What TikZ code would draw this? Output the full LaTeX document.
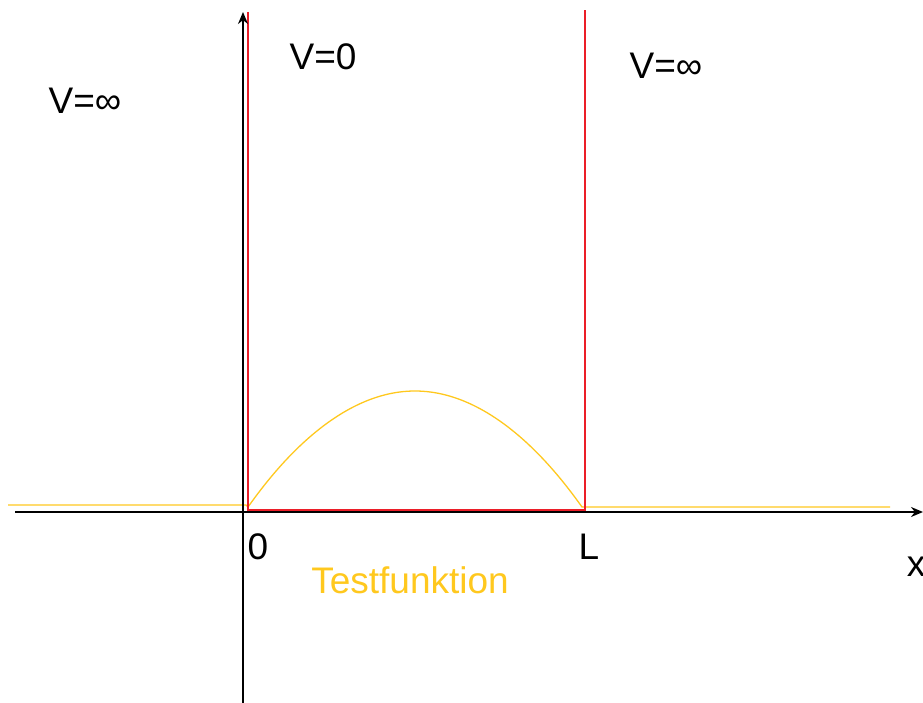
\documentclass[tikz,border=0pt]{standalone}
\usepackage{fontspec}
\setmainfont{Liberation Sans}
\usetikzlibrary{arrows.meta}
\definecolor{potred}{RGB}{235,30,40}
\definecolor{testyel}{RGB}{255,200,30}
\tikzset{
  lbl/.style={font=\fontsize{37}{40}\selectfont, inner sep=0pt, anchor=center},
  axis/.style={black, line width=1.6pt, -{Stealth[length=12pt,width=10pt]}},
  wall/.style={potred, line width=1.4pt},
  psi/.style={testyel, line width=1.3pt}
}
\begin{document}
\begin{tikzpicture}[x=1pt,y=-1pt]
\useasboundingbox (0,0) rectangle (923,703);
% coordinates
\coordinate (xs) at (15,512);
\coordinate (xe) at (923,512);
\coordinate (ys) at (243,703);
\coordinate (ye) at (243,12);
\coordinate (w1t) at (248,12);
\coordinate (w1b) at (248,510);
\coordinate (w2t) at (585,10);
\coordinate (w2b) at (585,510);
\coordinate (ls) at (8,505);
\coordinate (le) at (246,505);
\coordinate (pa) at (248,507);
\coordinate (pb) at (582,507);
\coordinate (rs) at (584,507);
\coordinate (re) at (890,507);
% yellow test function
\draw[psi] (ls) -- (le) -- (pa) parabola bend (415,391) (pb) -- (rs) -- (re);
% red walls
\draw[wall] (w1t) -- (w1b) -- (w2b) -- (w2t);
% axes
\draw[axis] (xs) -- (xe);
\draw[axis] (ys) -- (ye);
% labels
\node[lbl] (vl) at (85,101) {V=∞};
\node[lbl] (v0) at (323,57) {V=0};
\node[lbl] (vr) at (666,66) {V=∞};
\node[lbl] (n0) at (258,547) {0};
\node[lbl] (nL) at (589,547) {L};
\node[lbl] (nx) at (916,567) {x};
\node[lbl, text=testyel] (tf) at (410,580) {Testfunktion};
\end{tikzpicture}
\end{document}
